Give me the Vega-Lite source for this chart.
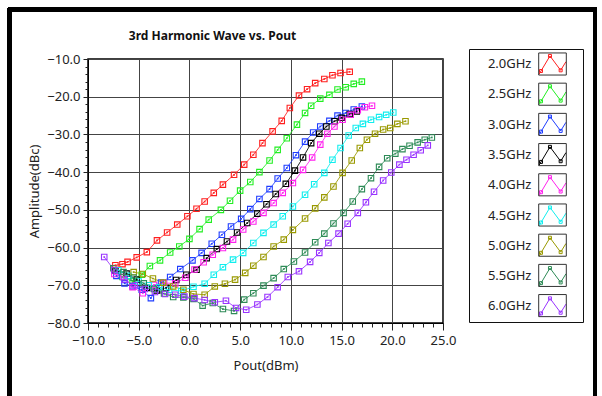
{
  "$schema": "https://vega.github.io/schema/vega-lite/v6.json",
  "width": 355,
  "height": 264,
  "autosize": {"type": "none"},
  "padding": {"left": 88, "top": 59, "right": 159, "bottom": 73},
  "background": "white",
  "title": {"text": "3rd Harmonic Wave vs. Pout", "font": "Noto Sans", "fontSize": 12, "fontWeight": "bold", "color": "#111", "anchor": "middle", "dx": -53, "offset": -35, "frame": "group"},
  "config": {
    "view": {"stroke": "black", "strokeWidth": 1.5},
    "axis": {"labelFont": "Noto Sans", "labelFontSize": 13, "labelColor": "#222", "titleFont": "Noto Sans", "titleFontSize": 13, "titleFontWeight": "normal", "titleColor": "#222", "tickColor": "#222", "domainColor": "black", "labelFlush": false, "labelOverlap": false}
  },
  "data": {"values": [
    {"s":"2.0GHz","x":-7.3,"y":-64.7},{"s":"2.0GHz","x":-6.6,"y":-64.4},{"s":"2.0GHz","x":-6.1,"y":-63.8},{"s":"2.0GHz","x":-5.2,"y":-62.6},{"s":"2.0GHz","x":-4.2,"y":-61.2},{"s":"2.0GHz","x":-3.2,"y":-58.1},{"s":"2.0GHz","x":-2.2,"y":-56.0},{"s":"2.0GHz","x":-1.2,"y":-53.9},{"s":"2.0GHz","x":-0.2,"y":-51.7},{"s":"2.0GHz","x":0.7,"y":-49.7},{"s":"2.0GHz","x":1.5,"y":-47.8},{"s":"2.0GHz","x":2.4,"y":-45.5},{"s":"2.0GHz","x":3.3,"y":-43.3},{"s":"2.0GHz","x":4.4,"y":-40.7},{"s":"2.0GHz","x":5.4,"y":-38.0},{"s":"2.0GHz","x":6.3,"y":-35.4},{"s":"2.0GHz","x":7.2,"y":-32.3},{"s":"2.0GHz","x":8.2,"y":-29.2},{"s":"2.0GHz","x":9.1,"y":-26.4},{"s":"2.0GHz","x":9.9,"y":-23.0},{"s":"2.0GHz","x":10.8,"y":-19.7},{"s":"2.0GHz","x":11.6,"y":-18.0},{"s":"2.0GHz","x":12.4,"y":-16.4},{"s":"2.0GHz","x":13.3,"y":-15.3},{"s":"2.0GHz","x":14.1,"y":-14.3},{"s":"2.0GHz","x":14.9,"y":-13.7},{"s":"2.0GHz","x":15.8,"y":-13.4},
    {"s":"2.5GHz","x":-6.6,"y":-67.8},{"s":"2.5GHz","x":-5.6,"y":-69.0},{"s":"2.5GHz","x":-4.7,"y":-67.2},{"s":"2.5GHz","x":-3.9,"y":-64.9},{"s":"2.5GHz","x":-2.9,"y":-63.4},{"s":"2.5GHz","x":-1.9,"y":-61.3},{"s":"2.5GHz","x":-1.0,"y":-59.7},{"s":"2.5GHz","x":0.0,"y":-57.7},{"s":"2.5GHz","x":1.0,"y":-55.1},{"s":"2.5GHz","x":1.9,"y":-52.6},{"s":"2.5GHz","x":3.1,"y":-50.0},{"s":"2.5GHz","x":4.0,"y":-47.6},{"s":"2.5GHz","x":5.0,"y":-44.9},{"s":"2.5GHz","x":6.0,"y":-42.6},{"s":"2.5GHz","x":6.9,"y":-40.0},{"s":"2.5GHz","x":7.9,"y":-36.9},{"s":"2.5GHz","x":8.7,"y":-34.1},{"s":"2.5GHz","x":9.6,"y":-31.0},{"s":"2.5GHz","x":10.6,"y":-27.4},{"s":"2.5GHz","x":11.4,"y":-24.3},{"s":"2.5GHz","x":12.0,"y":-22.4},{"s":"2.5GHz","x":12.9,"y":-20.5},{"s":"2.5GHz","x":13.8,"y":-19.5},{"s":"2.5GHz","x":14.6,"y":-18.1},{"s":"2.5GHz","x":15.4,"y":-17.5},{"s":"2.5GHz","x":16.2,"y":-16.6},{"s":"2.5GHz","x":17.0,"y":-16.0},
    {"s":"3.0GHz","x":-7.2,"y":-67.5},{"s":"3.0GHz","x":-6.4,"y":-69.5},{"s":"3.0GHz","x":-5.6,"y":-70.3},{"s":"3.0GHz","x":-4.7,"y":-71.2},{"s":"3.0GHz","x":-3.8,"y":-73.4},{"s":"3.0GHz","x":-2.8,"y":-69.3},{"s":"3.0GHz","x":-1.9,"y":-67.8},{"s":"3.0GHz","x":-0.9,"y":-65.7},{"s":"3.0GHz","x":0.3,"y":-63.4},{"s":"3.0GHz","x":1.2,"y":-61.4},{"s":"3.0GHz","x":2.2,"y":-59.0},{"s":"3.0GHz","x":3.2,"y":-56.6},{"s":"3.0GHz","x":4.1,"y":-54.4},{"s":"3.0GHz","x":5.1,"y":-52.4},{"s":"3.0GHz","x":6.0,"y":-49.8},{"s":"3.0GHz","x":6.9,"y":-47.1},{"s":"3.0GHz","x":7.9,"y":-44.5},{"s":"3.0GHz","x":8.7,"y":-41.7},{"s":"3.0GHz","x":9.6,"y":-38.9},{"s":"3.0GHz","x":10.5,"y":-35.5},{"s":"3.0GHz","x":11.4,"y":-31.9},{"s":"3.0GHz","x":12.2,"y":-29.5},{"s":"3.0GHz","x":12.9,"y":-27.9},{"s":"3.0GHz","x":13.8,"y":-26.4},{"s":"3.0GHz","x":14.6,"y":-25.0},{"s":"3.0GHz","x":15.4,"y":-24.3},{"s":"3.0GHz","x":16.2,"y":-23.4},{"s":"3.0GHz","x":17.0,"y":-22.6},
    {"s":"3.5GHz","x":-7.3,"y":-66.1},{"s":"3.5GHz","x":-6.2,"y":-66.9},{"s":"3.5GHz","x":-5.2,"y":-68.5},{"s":"3.5GHz","x":-4.2,"y":-70.7},{"s":"3.5GHz","x":-3.2,"y":-71.4},{"s":"3.5GHz","x":-2.3,"y":-70.7},{"s":"3.5GHz","x":-1.3,"y":-68.6},{"s":"3.5GHz","x":-0.3,"y":-67.2},{"s":"3.5GHz","x":0.7,"y":-65.9},{"s":"3.5GHz","x":1.7,"y":-62.8},{"s":"3.5GHz","x":2.7,"y":-60.4},{"s":"3.5GHz","x":3.7,"y":-58.4},{"s":"3.5GHz","x":4.7,"y":-56.0},{"s":"3.5GHz","x":5.7,"y":-53.5},{"s":"3.5GHz","x":6.7,"y":-51.0},{"s":"3.5GHz","x":7.6,"y":-48.5},{"s":"3.5GHz","x":8.5,"y":-45.8},{"s":"3.5GHz","x":9.5,"y":-43.1},{"s":"3.5GHz","x":10.4,"y":-39.6},{"s":"3.5GHz","x":11.2,"y":-36.1},{"s":"3.5GHz","x":12.0,"y":-32.3},{"s":"3.5GHz","x":12.8,"y":-29.8},{"s":"3.5GHz","x":13.5,"y":-27.9},{"s":"3.5GHz","x":14.3,"y":-26.5},{"s":"3.5GHz","x":15.0,"y":-25.6},{"s":"3.5GHz","x":15.8,"y":-24.6},{"s":"3.5GHz","x":16.5,"y":-23.9},
    {"s":"4.0GHz","x":-7.4,"y":-67.0},{"s":"4.0GHz","x":-6.5,"y":-67.8},{"s":"4.0GHz","x":-5.6,"y":-70.5},{"s":"4.0GHz","x":-4.6,"y":-72.1},{"s":"4.0GHz","x":-3.5,"y":-69.9},{"s":"4.0GHz","x":-2.5,"y":-69.4},{"s":"4.0GHz","x":-1.4,"y":-69.5},{"s":"4.0GHz","x":-0.4,"y":-68.0},{"s":"4.0GHz","x":0.5,"y":-65.8},{"s":"4.0GHz","x":1.4,"y":-63.9},{"s":"4.0GHz","x":2.3,"y":-61.9},{"s":"4.0GHz","x":3.3,"y":-60.1},{"s":"4.0GHz","x":4.3,"y":-57.9},{"s":"4.0GHz","x":5.3,"y":-55.2},{"s":"4.0GHz","x":6.3,"y":-53.1},{"s":"4.0GHz","x":7.3,"y":-50.8},{"s":"4.0GHz","x":8.3,"y":-48.2},{"s":"4.0GHz","x":9.2,"y":-45.5},{"s":"4.0GHz","x":10.2,"y":-42.9},{"s":"4.0GHz","x":11.2,"y":-39.4},{"s":"4.0GHz","x":12.1,"y":-36.1},{"s":"4.0GHz","x":12.9,"y":-32.7},{"s":"4.0GHz","x":13.6,"y":-29.8},{"s":"4.0GHz","x":14.3,"y":-27.9},{"s":"4.0GHz","x":15.1,"y":-26.1},{"s":"4.0GHz","x":15.9,"y":-24.8},{"s":"4.0GHz","x":16.6,"y":-23.6},{"s":"4.0GHz","x":17.3,"y":-22.8},{"s":"4.0GHz","x":18.0,"y":-22.4},
    {"s":"4.5GHz","x":-7.0,"y":-66.0},{"s":"4.5GHz","x":-6.0,"y":-67.5},{"s":"4.5GHz","x":-5.0,"y":-69.0},{"s":"4.5GHz","x":-4.0,"y":-70.0},{"s":"4.5GHz","x":-3.0,"y":-70.5},{"s":"4.5GHz","x":-2.0,"y":-71.2},{"s":"4.5GHz","x":-0.8,"y":-71.5},{"s":"4.5GHz","x":0.4,"y":-70.4},{"s":"4.5GHz","x":1.5,"y":-69.6},{"s":"4.5GHz","x":2.4,"y":-67.2},{"s":"4.5GHz","x":3.3,"y":-65.2},{"s":"4.5GHz","x":4.3,"y":-63.2},{"s":"4.5GHz","x":5.3,"y":-61.4},{"s":"4.5GHz","x":6.3,"y":-58.8},{"s":"4.5GHz","x":7.3,"y":-56.1},{"s":"4.5GHz","x":8.3,"y":-53.9},{"s":"4.5GHz","x":9.2,"y":-51.7},{"s":"4.5GHz","x":10.2,"y":-49.1},{"s":"4.5GHz","x":11.4,"y":-46.0},{"s":"4.5GHz","x":12.3,"y":-43.2},{"s":"4.5GHz","x":13.3,"y":-40.2},{"s":"4.5GHz","x":14.1,"y":-36.7},{"s":"4.5GHz","x":14.9,"y":-33.6},{"s":"4.5GHz","x":15.7,"y":-30.3},{"s":"4.5GHz","x":16.4,"y":-28.3},{"s":"4.5GHz","x":17.1,"y":-27.2},{"s":"4.5GHz","x":17.9,"y":-26.1},{"s":"4.5GHz","x":18.7,"y":-25.4},{"s":"4.5GHz","x":19.4,"y":-24.8},{"s":"4.5GHz","x":20.1,"y":-24.2},
    {"s":"5.0GHz","x":-5.5,"y":-66.5},{"s":"5.0GHz","x":-4.6,"y":-67.0},{"s":"5.0GHz","x":-3.6,"y":-68.2},{"s":"5.0GHz","x":-2.6,"y":-69.3},{"s":"5.0GHz","x":-1.6,"y":-70.3},{"s":"5.0GHz","x":-0.6,"y":-71.2},{"s":"5.0GHz","x":0.4,"y":-72.3},{"s":"5.0GHz","x":1.5,"y":-72.5},{"s":"5.0GHz","x":2.5,"y":-70.3},{"s":"5.0GHz","x":3.5,"y":-69.6},{"s":"5.0GHz","x":4.5,"y":-68.5},{"s":"5.0GHz","x":5.5,"y":-66.7},{"s":"5.0GHz","x":6.3,"y":-64.8},{"s":"5.0GHz","x":7.3,"y":-62.5},{"s":"5.0GHz","x":8.3,"y":-59.7},{"s":"5.0GHz","x":9.3,"y":-57.9},{"s":"5.0GHz","x":10.2,"y":-55.3},{"s":"5.0GHz","x":11.4,"y":-52.3},{"s":"5.0GHz","x":12.4,"y":-49.6},{"s":"5.0GHz","x":13.3,"y":-46.7},{"s":"5.0GHz","x":14.2,"y":-43.8},{"s":"5.0GHz","x":15.1,"y":-40.2},{"s":"5.0GHz","x":16.0,"y":-36.9},{"s":"5.0GHz","x":16.8,"y":-33.6},{"s":"5.0GHz","x":17.5,"y":-31.4},{"s":"5.0GHz","x":18.3,"y":-29.8},{"s":"5.0GHz","x":19.1,"y":-28.7},{"s":"5.0GHz","x":19.8,"y":-28.3},{"s":"5.0GHz","x":20.5,"y":-27.2},{"s":"5.0GHz","x":21.3,"y":-26.5},
    {"s":"5.5GHz","x":-7.5,"y":-65.5},{"s":"5.5GHz","x":-6.5,"y":-66.5},{"s":"5.5GHz","x":-5.5,"y":-68.0},{"s":"5.5GHz","x":-4.5,"y":-69.5},{"s":"5.5GHz","x":-3.5,"y":-71.0},{"s":"5.5GHz","x":-2.5,"y":-72.2},{"s":"5.5GHz","x":-1.6,"y":-73.1},{"s":"5.5GHz","x":-0.6,"y":-73.2},{"s":"5.5GHz","x":0.4,"y":-73.6},{"s":"5.5GHz","x":1.3,"y":-75.4},{"s":"5.5GHz","x":2.3,"y":-74.7},{"s":"5.5GHz","x":3.3,"y":-76.3},{"s":"5.5GHz","x":4.4,"y":-76.8},{"s":"5.5GHz","x":5.4,"y":-73.8},{"s":"5.5GHz","x":6.3,"y":-72.1},{"s":"5.5GHz","x":7.3,"y":-70.1},{"s":"5.5GHz","x":8.3,"y":-68.1},{"s":"5.5GHz","x":9.3,"y":-65.7},{"s":"5.5GHz","x":10.3,"y":-63.7},{"s":"5.5GHz","x":11.4,"y":-61.3},{"s":"5.5GHz","x":12.4,"y":-58.6},{"s":"5.5GHz","x":13.3,"y":-56.3},{"s":"5.5GHz","x":14.2,"y":-53.6},{"s":"5.5GHz","x":15.2,"y":-50.8},{"s":"5.5GHz","x":16.1,"y":-47.8},{"s":"5.5GHz","x":17.0,"y":-44.5},{"s":"5.5GHz","x":17.9,"y":-41.6},{"s":"5.5GHz","x":18.7,"y":-38.6},{"s":"5.5GHz","x":19.5,"y":-36.3},{"s":"5.5GHz","x":20.3,"y":-35.1},{"s":"5.5GHz","x":21.0,"y":-33.9},{"s":"5.5GHz","x":21.7,"y":-33.0},{"s":"5.5GHz","x":22.5,"y":-32.1},{"s":"5.5GHz","x":23.2,"y":-31.4},{"s":"5.5GHz","x":23.9,"y":-30.8},
    {"s":"6.0GHz","x":-8.4,"y":-62.5},{"s":"6.0GHz","x":-7.4,"y":-66.0},{"s":"6.0GHz","x":-6.4,"y":-68.5},{"s":"6.0GHz","x":-5.4,"y":-70.0},{"s":"6.0GHz","x":-4.4,"y":-71.0},{"s":"6.0GHz","x":-3.4,"y":-71.8},{"s":"6.0GHz","x":-2.4,"y":-72.3},{"s":"6.0GHz","x":-1.4,"y":-72.5},{"s":"6.0GHz","x":-0.5,"y":-73.0},{"s":"6.0GHz","x":0.5,"y":-73.4},{"s":"6.0GHz","x":1.5,"y":-73.9},{"s":"6.0GHz","x":2.5,"y":-74.5},{"s":"6.0GHz","x":3.6,"y":-74.1},{"s":"6.0GHz","x":4.6,"y":-76.0},{"s":"6.0GHz","x":5.6,"y":-76.5},{"s":"6.0GHz","x":6.7,"y":-75.1},{"s":"6.0GHz","x":7.7,"y":-73.1},{"s":"6.0GHz","x":8.7,"y":-70.5},{"s":"6.0GHz","x":9.7,"y":-67.8},{"s":"6.0GHz","x":10.8,"y":-66.3},{"s":"6.0GHz","x":11.9,"y":-63.8},{"s":"6.0GHz","x":12.8,"y":-61.4},{"s":"6.0GHz","x":13.7,"y":-58.8},{"s":"6.0GHz","x":14.7,"y":-56.3},{"s":"6.0GHz","x":15.6,"y":-53.7},{"s":"6.0GHz","x":16.6,"y":-50.8},{"s":"6.0GHz","x":17.4,"y":-48.0},{"s":"6.0GHz","x":18.2,"y":-45.2},{"s":"6.0GHz","x":19.1,"y":-42.2},{"s":"6.0GHz","x":19.9,"y":-40.1},{"s":"6.0GHz","x":20.7,"y":-38.0},{"s":"6.0GHz","x":21.4,"y":-36.7},{"s":"6.0GHz","x":22.1,"y":-35.4},{"s":"6.0GHz","x":22.8,"y":-34.2},{"s":"6.0GHz","x":23.5,"y":-32.9}
  ]},
  "layer": [
    {
      "mark": {"type": "line", "strokeWidth": 1, "opacity": 0.85, "clip": true},
      "encoding": {
        "x": {"field": "x", "type": "quantitative", "scale": {"domain": [-10, 25], "nice": false, "zero": false},
          "axis": {"orient": "bottom", "values": [-10, -5, 0, 5, 10, 15, 20, 25], "format": ".1f", "grid": true, "gridColor": "#444", "gridWidth": 1, "gridOpacity": 1, "tickSize": 7, "labelPadding": 4, "title": "Pout(dBm)", "titlePadding": 12}},
        "y": {"field": "y", "type": "quantitative", "scale": {"domain": [-80, -10], "nice": false, "zero": false},
          "axis": {"orient": "left", "values": [-80, -70, -60, -50, -40, -30, -20, -10], "format": ".1f", "grid": true, "gridColor": "#444", "gridWidth": 1, "gridOpacity": 1, "tickSize": 5, "labelPadding": 3, "title": "Amplitude(dBc)", "titlePadding": 5}},
        "stroke": {"field": "s", "type": "nominal", "legend": null,
          "scale": {"domain": ["6.0GHz", "5.5GHz", "5.0GHz", "4.5GHz", "4.0GHz", "3.5GHz", "3.0GHz", "2.5GHz", "2.0GHz"], "range": ["#9933ff", "#2e8b57", "#999900", "#11eeee", "#ff22ee", "#000000", "#1f3dff", "#22ee22", "#ff1f1f"]}}
      }
    },
    {
      "mark": {"type": "point", "shape": "square", "filled": false, "size": 30, "strokeWidth": 1.1, "opacity": 1, "clip": true},
      "encoding": {
        "x": {"field": "x", "type": "quantitative", "axis": null},
        "y": {"field": "y", "type": "quantitative", "axis": null},
        "color": {"field": "s", "type": "nominal",
          "scale": {"domain": ["2.0GHz", "2.5GHz", "3.0GHz", "3.5GHz", "4.0GHz", "4.5GHz", "5.0GHz", "5.5GHz", "6.0GHz"], "range": ["#ff1f1f", "#22ee22", "#1f3dff", "#000000", "#ff22ee", "#11eeee", "#999900", "#2e8b57", "#9933ff"]},
          "legend": {"orient": "none", "legendX": 381, "legendY": -10, "title": null, "padding": 3, "rowPadding": 5.3,
            "symbolType": "M-1.17,0.9L-1.0,0.61L-0.22,-0.7L0.71,0.55L1.17,-0.2M-1.13,0.48h0.26v0.26h-0.26ZM-0.35,-0.83h0.26v0.26h-0.26ZM0.58,0.42h0.26v0.26h-0.26ZM2.17,0",
            "symbolSize": 529, "symbolStrokeWidth": 1, "symbolOffset": 68.5,
            "labelAlign": "right", "labelOffset": -33, "labelFont": "Noto Sans", "labelFontSize": 13, "labelColor": "#222", "labelLimit": 0,
            "strokeColor": "#111", "fillColor": "white"}}
      }
    },
    {
      "mark": {"type": "point", "shape": "square", "filled": true, "size": 3, "opacity": 0.9, "clip": true},
      "encoding": {
        "x": {"field": "x", "type": "quantitative",
          "axis": {"orient": "bottom", "values": [-10,-9,-8,-7,-6,-5,-4,-3,-2,-1,0,1,2,3,4,5,6,7,8,9,10,11,12,13,14,15,16,17,18,19,20,21,22,23,24,25], "labels": false, "grid": false, "domain": false, "tickSize": 4, "title": null}},
        "y": {"field": "y", "type": "quantitative",
          "axis": {"orient": "left", "values": [-80,-78,-76,-74,-72,-70,-68,-66,-64,-62,-60,-58,-56,-54,-52,-50,-48,-46,-44,-42,-40,-38,-36,-34,-32,-30,-28,-26,-24,-22,-20,-18,-16,-14,-12,-10], "labels": false, "grid": false, "domain": false, "tickSize": 3, "title": null}},
        "fill": {"field": "s", "type": "nominal", "legend": null,
          "scale": {"domain": ["2.5GHz", "3.0GHz", "3.5GHz", "4.0GHz", "4.5GHz", "5.0GHz", "5.5GHz", "6.0GHz", "2.0GHz"], "range": ["#22ee22", "#1f3dff", "#000000", "#ff22ee", "#11eeee", "#999900", "#2e8b57", "#9933ff", "#ff1f1f"]}}
      }
    },
    {
      "mark": {"type": "point", "filled": false, "opacity": 0, "color": "#333"},
      "encoding": {
        "x": {"field": "x", "type": "quantitative", "axis": null},
        "y": {"field": "y", "type": "quantitative", "axis": null},
        "shape": {"field": "s", "type": "nominal",
          "scale": {"range": ["M-1.2,-0.96H1.2V0.96H-1.2Z", "M-1.2,-0.96H1.2V0.96H-1.2Z", "M-1.2,-0.96H1.2V0.96H-1.2Z", "M-1.2,-0.96H1.2V0.96H-1.2Z", "M-1.2,-0.96H1.2V0.96H-1.2Z", "M-1.2,-0.96H1.2V0.96H-1.2Z", "M-1.2,-0.96H1.2V0.96H-1.2Z", "M-1.2,-0.96H1.2V0.96H-1.2Z", "M-1.2,-0.96H1.2V0.96H-1.2Z"]},
          "legend": {"orient": "none", "legendX": 381, "legendY": -10, "title": null, "padding": 3, "rowPadding": 2.2,
            "symbolSize": 529, "symbolStrokeWidth": 1, "symbolStrokeColor": "#333", "symbolFillColor": "transparent", "symbolOpacity": 1, "symbolOffset": 68.5,
            "labelAlign": "right", "labelOffset": -33, "labelFont": "Noto Sans", "labelFontSize": 13, "labelOpacity": 0, "labelLimit": 0}}
      }
    },
    {
      "mark": {"type": "rect", "fill": null, "fillOpacity": 0, "stroke": "black", "strokeWidth": 3.5, "clip": false},
      "encoding": {
        "x": {"datum": -17.72, "type": "quantitative", "axis": null},
        "x2": {"datum": 39.99},
        "y": {"datum": 3.13, "type": "quantitative", "axis": null},
        "y2": {"datum": -110}
      }
    }
  ],
  "resolve": {"axis": {"x": "independent", "y": "independent"}}
}
